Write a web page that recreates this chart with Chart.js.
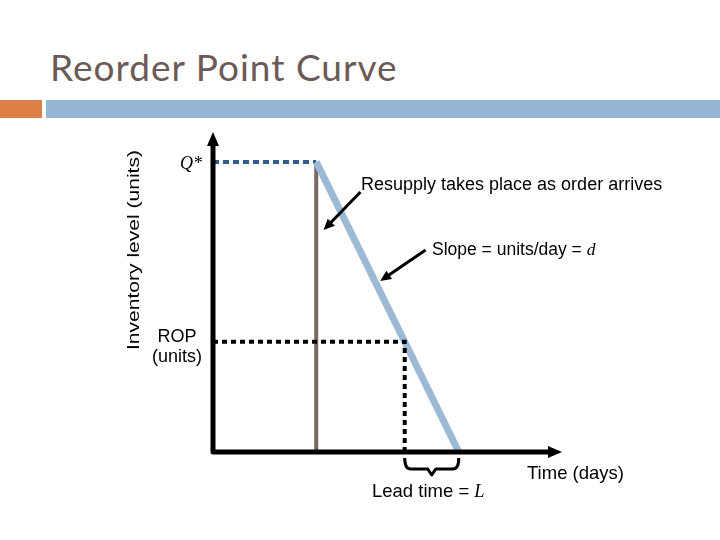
<!DOCTYPE html>
<html><head><meta charset="utf-8">
<script src="https://cdn.jsdelivr.net/npm/chart.js@4.4.1/dist/chart.umd.min.js"></script>
<style>
html,body{margin:0;padding:0;background:#fff;}
#wrap{position:relative;width:720px;height:540px;}
#title{position:absolute;left:50px;top:44px;font-family:"Lato","Open Sans",sans-serif;font-size:37px;color:#6b5a55;letter-spacing:1px;white-space:nowrap;}
#barO{position:absolute;left:0;top:100px;width:42px;height:18px;background:#dd8047;}
#barB{position:absolute;left:46px;top:100px;width:674px;height:18px;background:#94b6d2;}
canvas{position:absolute;left:0;top:0;}
</style></head>
<body><div id="wrap">
<div id="title">Reorder Point Curve</div>
<div id="barO"></div><div id="barB"></div>
<canvas id="c" width="720" height="540"></canvas>
</div>
<script>
// Data (units: days, inventory units)
const qStar = 100;          // order quantity level Q*
const rop = 38;             // reorder point (units)
const arrivalDay = 4.2;     // resupply time
const ropDay = 7.8;         // time inventory reaches ROP
const stockoutDay = 10;     // inventory hits zero
const xMax = 14.2;
const yMax = 110.3;
const labels = {
  title: "Reorder Point Curve",
  yAxis: "Inventory level (units)",
  xAxis: "Time (days)",
  q: "Q*",
  rop1: "ROP",
  rop2: "(units)",
  resupply: "Resupply takes place as order arrives",
  slope: "Slope = units/day = ",
  slopeVar: "d",
  lead: "Lead time = ",
  leadVar: "L"
};
// annotation arrows: [fromX, fromY, toX, toY] in data units
const arrow1 = [6.0, 89.6, 4.5, 76.5];
const arrow2 = [8.65, 69.6, 6.8, 58.9];

const decor = {
  id: 'decor',
  afterDatasetsDraw(chart) {
    const ctx = chart.ctx, xs = chart.scales.x, ys = chart.scales.y;
    const X = v => xs.getPixelForValue(v), Y = v => ys.getPixelForValue(v);
    ctx.save();
    // axes
    ctx.strokeStyle = '#000'; ctx.fillStyle = '#000';
    ctx.lineWidth = 5; ctx.lineJoin = 'round'; ctx.lineCap = 'butt';
    ctx.beginPath();
    ctx.moveTo(X(0), Y(yMax) + 12);
    ctx.lineTo(X(0), Y(0));
    ctx.lineTo(X(xMax) - 12, Y(0));
    ctx.stroke();
    // arrowheads
    ctx.beginPath();
    ctx.moveTo(X(0), Y(yMax)); ctx.lineTo(X(0) - 6, Y(yMax) + 14); ctx.lineTo(X(0) + 6, Y(yMax) + 14); ctx.closePath(); ctx.fill();
    ctx.beginPath();
    ctx.moveTo(X(xMax), Y(0)); ctx.lineTo(X(xMax) - 14, Y(0) - 6); ctx.lineTo(X(xMax) - 14, Y(0) + 6); ctx.closePath(); ctx.fill();
    // annotation arrows
    function arrow(a) {
      const x1 = X(a[0]), y1 = Y(a[1]), x2 = X(a[2]), y2 = Y(a[3]);
      const ang = Math.atan2(y2 - y1, x2 - x1);
      ctx.lineWidth = 3;
      ctx.beginPath(); ctx.moveTo(x1, y1);
      ctx.lineTo(x2 - 8 * Math.cos(ang), y2 - 8 * Math.sin(ang)); ctx.stroke();
      ctx.beginPath();
      ctx.moveTo(x2, y2);
      ctx.lineTo(x2 - 11 * Math.cos(ang) + 5 * Math.sin(ang), y2 - 11 * Math.sin(ang) - 5 * Math.cos(ang));
      ctx.lineTo(x2 - 11 * Math.cos(ang) - 5 * Math.sin(ang), y2 - 11 * Math.sin(ang) + 5 * Math.cos(ang));
      ctx.closePath(); ctx.fill();
    }
    arrow(arrow1); arrow(arrow2);
    // brace under lead time
    const bx1 = X(ropDay), bx2 = X(stockoutDay), by = Y(0) + 6, bm = (bx1 + bx2) / 2;
    ctx.lineWidth = 3; ctx.lineJoin = 'round';
    ctx.beginPath();
    ctx.moveTo(bx1, by);
    ctx.quadraticCurveTo(bx1, by + 11, bx1 + 6, by + 11);
    ctx.lineTo(bm - 4, by + 11);
    ctx.lineTo(bm, by + 17);
    ctx.lineTo(bm + 4, by + 11);
    ctx.lineTo(bx2 - 6, by + 11);
    ctx.quadraticCurveTo(bx2, by + 11, bx2, by);
    ctx.stroke();
    // texts
    const sans = s => s + 'px "Liberation Sans", Arial, sans-serif';
    const serifI = s => 'italic ' + s + 'px "Liberation Serif", "Times New Roman", serif';
    ctx.fillStyle = '#000';
    ctx.textBaseline = 'alphabetic';
    ctx.textAlign = 'left';
    ctx.font = sans(18);
    ctx.fillText(labels.resupply, 361, 190);
    ctx.font = sans(17.5);
    ctx.fillText(labels.slope, 432, 255);
    let w = ctx.measureText(labels.slope).width;
    ctx.font = serifI(17.5);
    ctx.fillText(labels.slopeVar, 432 + w, 255);
    ctx.font = sans(18);
    ctx.textAlign = 'center';
    ctx.fillText(labels.rop1, 177, 342);
    ctx.fillText(labels.rop2, 177, 362);
    ctx.textAlign = 'left';
    ctx.font = sans(18.5);
    ctx.fillText(labels.xAxis, 527, 479);
    ctx.fillText(labels.lead, 372, 497);
    w = ctx.measureText(labels.lead).width;
    ctx.font = serifI(18.5);
    ctx.fillText(labels.leadVar, 372 + w, 497);
    ctx.font = serifI(18);
    ctx.fillText(labels.q, 180, 169);
    // y axis label
    ctx.save();
    ctx.translate(139, 250);
    ctx.rotate(-Math.PI / 2);
    ctx.textAlign = 'center';
    ctx.font = sans(17);
    const lw = ctx.measureText(labels.yAxis).width;
    ctx.scale(200 / lw, 1);
    ctx.fillText(labels.yAxis, 0, 0);
    ctx.restore();
    ctx.restore();
  }
};

new Chart(document.getElementById('c'), {
  type: 'scatter',
  data: {
    datasets: [
      { data: [{x: 0, y: qStar}, {x: arrivalDay, y: qStar}], borderColor: '#2f5a8c', borderWidth: 4, borderDash: [6, 4], showLine: true, pointRadius: 0, order: 5 },
      { data: [{x: arrivalDay, y: 0}, {x: arrivalDay, y: qStar - 1}], borderColor: '#7b6660', borderWidth: 4, showLine: true, pointRadius: 0, order: 4 },
      { data: [{x: arrivalDay, y: qStar}, {x: ropDay, y: rop}, {x: stockoutDay, y: 0}], borderColor: '#9cb9d5', borderWidth: 7, showLine: true, pointRadius: 0, order: 3 },
      { data: [{x: 0, y: rop}, {x: ropDay, y: rop}, {x: ropDay, y: 0}], borderColor: '#000', borderWidth: 4, borderDash: [5, 4], showLine: true, pointRadius: 0, order: 2 }
    ]
  },
  options: {
    responsive: false, animation: false,
    layout: { padding: { left: 213, right: 158, top: 132, bottom: 88 } },
    plugins: { legend: { display: false }, tooltip: { enabled: false } },
    scales: {
      x: { type: 'linear', min: 0, max: xMax, display: false },
      y: { type: 'linear', min: 0, max: yMax, display: false }
    }
  },
  plugins: [decor]
});
</script>
</body></html>
